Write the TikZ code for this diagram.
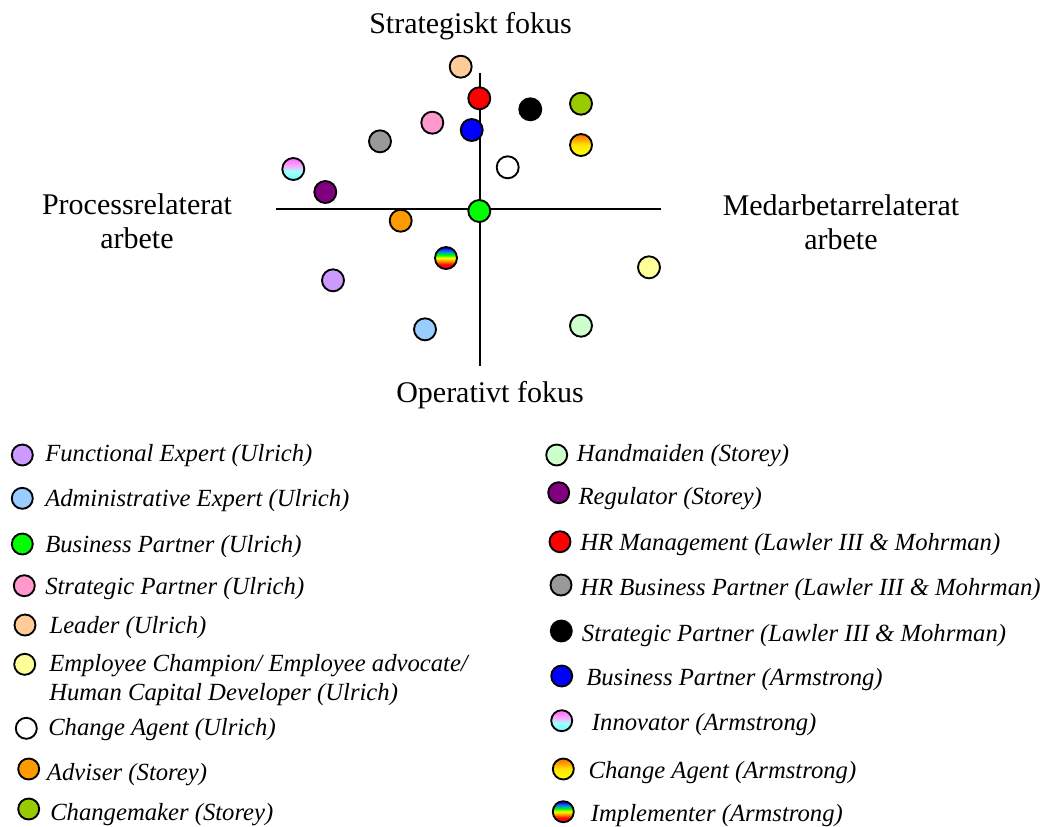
\documentclass[tikz,border=0pt]{standalone}
\usepackage{fontspec}
\setmainfont{Liberation Serif}
\usepackage{tikz}
\definecolor{lilac}{HTML}{CC99FF}
\definecolor{paleblue}{HTML}{99CCFF}
\definecolor{brightgreen}{HTML}{00FF00}
\definecolor{rosepink}{HTML}{FF99CC}
\definecolor{peach}{HTML}{FFCC99}
\definecolor{paleyellow}{HTML}{FFFF99}
\definecolor{amber}{HTML}{FF9900}
\definecolor{lime}{HTML}{99CC00}
\definecolor{palegreen}{HTML}{CCFFCC}
\definecolor{plum}{HTML}{800080}
\definecolor{pureblue}{HTML}{0000FF}
\definecolor{midgrey}{HTML}{999999}
\definecolor{orchid}{HTML}{FF66FF}
\definecolor{aqua}{HTML}{66FFFF}
\definecolor{deeporange}{HTML}{FF6600}
\definecolor{sun}{HTML}{FFFF00}
\pgfdeclareverticalshading{rainbow}{100bp}{color(0bp)=(red!60!magenta); color(27bp)=(red!60!magenta); color(35bp)=(red); color(42bp)=(orange); color(50bp)=(yellow); color(57bp)=(green); color(65bp)=(cyan!50!blue); color(73bp)=(blue!70!violet); color(100bp)=(blue!70!violet)}
\pgfdeclareverticalshading{pinkcyan}{100bp}{color(0bp)=(aqua); color(25bp)=(aqua); color(45bp)=(aqua!60!white); color(58bp)=(orchid!60!white); color(75bp)=(orchid); color(100bp)=(orchid)}

\begin{document}
\begin{tikzpicture}[x=0.75pt,y=-0.75pt,
  d/.style={circle,draw=black,line width=1.4pt,fill=#1,minimum size=16.5pt,inner sep=0pt},
  k/.style={circle,draw=black,line width=1.4pt,fill=#1,minimum size=15.75pt,inner sep=0pt},
  t/.style={anchor=base west,inner sep=0pt,font=\fontsize{18.5}{21.2}\selectfont\itshape,align=left},
  h/.style={anchor=base,inner sep=0pt,font=\fontsize{22.5}{25.5}\selectfont,align=center}]
  \useasboundingbox (0,0) rectangle (1051,826);
  % axes
  \coordinate (xl) at (276,209); \coordinate (xr) at (661,209);
  \coordinate (yt) at (479.5,73); \coordinate (yb) at (479.5,366);
  \draw[line width=1.5pt] (xl) -- (xr);
  \draw[line width=1.5pt] (yt) -- (yb);
  \node[h] (top) at (470.5,33) {Strategiskt fokus};
  \node[h] (bot) at (490,402) {Operativt fokus};
  \node[h] (left) at (137,248.5) {Processrelaterat\\arbete};
  \node[h] (right) at (841,249) {Medarbetarrelaterat\\arbete};
  % roles in the plane
  \node[d=peach] (d5) at (460.7,66.7) {};
  \node[d=red] (d12) at (479.3,98.3) {};
  \node[d=black] (d14) at (530.3,109.3) {};
  \node[d=lime] (d9) at (581,103.7) {};
  \node[d=rosepink] (d4) at (432.3,122.7) {};
  \node[d=pureblue] (d15) at (471.7,130) {};
  \node[d=midgrey] (d13) at (380,141.3) {};
  \node[d=white,top color=deeporange,bottom color=sun,middle color=sun!80!orange] (d17) at (581,145) {};
  \node[d=white] (d7) at (507.7,167.3) {};
  \node[d=white,shading=pinkcyan] (d16) at (293.3,169) {};
  \node[d=plum] (d11) at (325.3,192) {};
  \node[d=brightgreen] (d3) at (479.3,211) {};
  \node[d=amber] (d8) at (400.7,220.7) {};
  \node[d=white,shading=rainbow] (d18) at (446,258) {};
  \node[d=lilac] (d1) at (333,280.3) {};
  \node[d=paleyellow] (d6) at (649,267.3) {};
  \node[d=paleblue] (d2) at (425,329.3) {};
  \node[d=palegreen] (d10) at (581,325.7) {};
  % legend, left column
  \node[k=lilac] (k1) at (22.3,455) {};
  \node[t] (l1) at (45,461.7) {Functional Expert (Ulrich)};
  \node[k=paleblue] (k2) at (22.3,498.3) {};
  \node[t] (l2) at (45,506) {Administrative Expert (Ulrich)};
  \node[k=brightgreen] (k3) at (22.3,544) {};
  \node[t] (l3) at (45,552.7) {Business Partner (Ulrich)};
  \node[k=rosepink] (k4) at (24.3,585.7) {};
  \node[t] (l4) at (45,594.3) {Strategic Partner (Ulrich)};
  \node[k=peach] (k5) at (25,625) {};
  \node[t] (l5) at (49.3,633.3) {Leader (Ulrich)};
  \node[k=paleyellow] (k6) at (24.7,664.3) {};
  \node[t] (l6) at (49,700) {Employee Champion/ Employee advocate/\\Human Capital Developer (Ulrich)};
  \node[k=white] (k7) at (26.3,728.3) {};
  \node[t] (l7) at (48,735) {Change Agent (Ulrich)};
  \node[k=amber] (k8) at (28.7,769) {};
  \node[t] (l8) at (46.7,780.7) {Adviser (Storey)};
  \node[k=lime] (k9) at (28.7,809) {};
  \node[t] (l9) at (50,820) {Changemaker (Storey)};
  % legend, right column
  \node[k=palegreen] (k10) at (556.7,455) {};
  \node[t] (l10) at (576.7,461.7) {Handmaiden (Storey)};
  \node[k=plum] (k11) at (558.7,492.7) {};
  \node[t] (l11) at (578.3,504) {Regulator (Storey)};
  \node[k=red] (k12) at (560,541.7) {};
  \node[t] (l12) at (580,550) {HR Management (Lawler III \& Mohrman)};
  \node[k=midgrey] (k13) at (561,585) {};
  \node[t] (l13) at (580,595) {HR Business Partner (Lawler III \& Mohrman)};
  \node[k=black] (k14) at (561.3,631) {};
  \node[t] (l14) at (581.7,641.7) {Strategic Partner (Lawler III \& Mohrman)};
  \node[k=pureblue] (k15) at (561.7,676) {};
  \node[t] (l15) at (586,685) {Business Partner (Armstrong)};
  \node[k=white,shading=pinkcyan] (k16) at (561.7,720.7) {};
  \node[t] (l16) at (591.7,730) {Innovator (Armstrong)};
  \node[k=white,top color=deeporange,bottom color=sun,middle color=sun!80!orange] (k17) at (563.3,769) {};
  \node[t] (l17) at (588.3,778.3) {Change Agent (Armstrong)};
  \node[k=white,shading=rainbow] (k18) at (563.3,811.7) {};
  \node[t] (l18) at (590.7,821.7) {Implementer (Armstrong)};
\end{tikzpicture}
\end{document}
